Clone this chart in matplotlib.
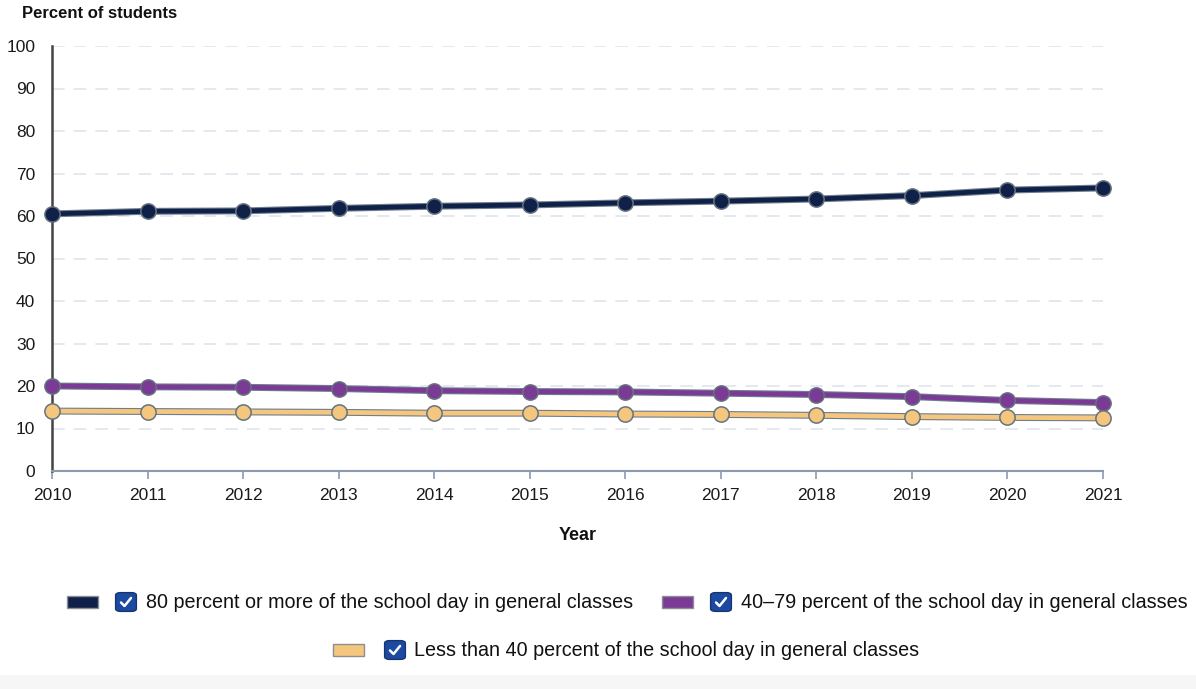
import matplotlib
matplotlib.use("Agg")
import matplotlib.pyplot as plt
from matplotlib.patches import Rectangle, FancyBboxPatch
from matplotlib.lines import Line2D

years = [2010, 2011, 2012, 2013, 2014, 2015, 2016, 2017, 2018, 2019, 2020, 2021]
pct_80_plus = [60.5, 61.1, 61.2, 61.8, 62.3, 62.6, 63.1, 63.5, 64.0, 64.8, 66.1, 66.6]
pct_40_79 = [20.0, 19.8, 19.7, 19.4, 18.9, 18.7, 18.6, 18.3, 18.0, 17.5, 16.6, 16.1]
pct_lt_40 = [14.1, 14.0, 13.9, 13.8, 13.6, 13.6, 13.4, 13.3, 13.1, 12.8, 12.6, 12.5]

series_labels = [
    "80 percent or more of the school day in general classes",
    "40\u201379 percent of the school day in general classes",
    "Less than 40 percent of the school day in general classes",
]
colors = ["#0f2148", "#7a3a96", "#f5c77e"]

plt.rcParams['font.family'] = ['Liberation Sans', 'DejaVu Sans']

W, H = 1196, 689
fig = plt.figure(figsize=(W / 100, H / 100), dpi=100)
fig.patch.set_facecolor("white")

# axes box in pixels: x 52..1103, y 46..471
ax = fig.add_axes([52 / W, 1 - 471 / H, (1103 - 52) / W, (471 - 46) / H])
ax.set_xlim(2010, 2021)
ax.set_ylim(0, 100)
ax.set_xticks(years)
ax.set_yticks(range(0, 101, 10))
ax.tick_params(axis="y", length=0, pad=12, labelsize=12.5, colors="#1a1a1a")
ax.tick_params(axis="x", length=6, width=1.2, color="#8a9bb0", pad=6,
               labelsize=12.5, labelcolor="#1a1a1a")

for y in range(10, 101, 10):
    ax.axhline(y, color="#e1e7ee", lw=1.3, dashes=(7, 5), zorder=0)

for s in ["top", "right"]:
    ax.spines[s].set_visible(False)
ax.spines["left"].set_color("#444444")
ax.spines["left"].set_linewidth(1.8)
ax.spines["bottom"].set_color("#8a9bb0")
ax.spines["bottom"].set_linewidth(1.5)

all_series = [pct_80_plus, pct_40_79, pct_lt_40]
for vals, c in zip(all_series, colors):
    # grey outline under the line
    ax.plot(years, vals, color="#6f7d8c", lw=5.0, clip_on=False, zorder=2,
            solid_joinstyle="round")
    ax.plot(years, vals, color=c, lw=3.4, clip_on=False, zorder=3,
            solid_joinstyle="round")
    ax.plot(years, vals, ls="none", marker="o", markersize=11,
            markerfacecolor=c, markeredgecolor="#66737f", markeredgewidth=1.1,
            clip_on=False, zorder=4)

fig.text(22 / W, 1 - 14 / H, "Percent of students", fontsize=12, fontweight="bold",
         ha="left", va="center", color="#111111")
fig.text(578 / W, 1 - 535 / H, "Year", fontsize=13, fontweight="bold",
         ha="center", va="center", color="#111111")


def legend_item(x_sw, x_cb, x_txt, y, color, label):
    # swatch
    fig.patches.append(Rectangle((x_sw / W, 1 - (y + 6) / H), 31 / W, 12 / H,
                                 transform=fig.transFigure, facecolor=color,
                                 edgecolor="#8a8f96", lw=1.0))
    # checkbox
    fig.patches.append(FancyBboxPatch(((x_cb + 2) / W, 1 - (y + 8) / H), 16 / W, 16 / H,
                                      boxstyle="round,pad=0.002,rounding_size=0.004",
                                      transform=fig.transFigure, facecolor="#1c4aa3",
                                      edgecolor="#16356f", lw=1.0))
    cx = x_cb + 10
    fig.lines.append(Line2D([(cx - 5) / W, (cx - 1.5) / W, (cx + 5) / W],
                            [1 - (y + 0.5) / H, 1 - (y + 4) / H, 1 - (y - 4) / H],
                            transform=fig.transFigure, color="white", lw=1.8,
                            solid_capstyle="round", solid_joinstyle="round"))
    fig.text(x_txt / W, 1 - y / H, label, fontsize=14.2, ha="left", va="center",
             color="#111111")


legend_item(67, 116, 146, 602, colors[0], series_labels[0])
legend_item(662, 711, 741, 602, colors[1], series_labels[1])
legend_item(333, 385, 414, 650, colors[2], series_labels[2])

# light strip at the bottom
fig.patches.append(Rectangle((0, 0), 1, 14 / H, transform=fig.transFigure,
                             facecolor="#f6f6f6", edgecolor="none"))

fig.savefig("out.png", dpi=100)
